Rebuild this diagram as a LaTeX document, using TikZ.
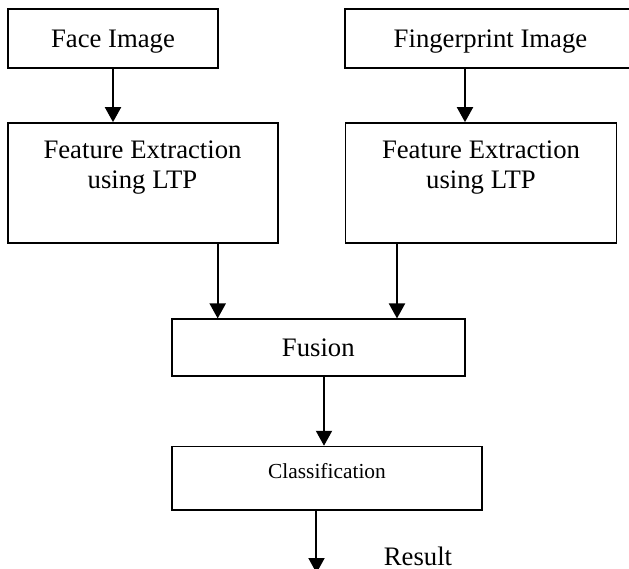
\documentclass[tikz,border=0pt]{standalone}
\usepackage{fontspec}
\setmainfont{Liberation Serif}
\usetikzlibrary{arrows.meta}
\begin{document}
\begin{tikzpicture}[x=0.5pt,y=-0.5pt,
  box/.style={draw, rectangle, line width=0.85pt, inner sep=0pt},
  lbl/.style={inner sep=0pt, font=\fontsize{13.35}{15}\selectfont},
  capbox/.style={box, lbl, text height=8.85pt, text depth=0pt},
  small/.style={inner sep=0pt, font=\fontsize{10.7}{13}\selectfont},
  arr/.style={line width=1pt, -{Triangle[length=7.5pt,width=8pt]}}]
\useasboundingbox (0,0) rectangle (629,569);
\clip (0,0) rectangle (629,569);

% input boxes
\node[capbox, minimum width=105pt, minimum height=29.5pt] (face) at (113,38.5) {Face Image};
\node[capbox, minimum width=145.5pt, minimum height=29.5pt] (finger) at (490.5,38.5) {Fingerprint Image};

% feature extraction boxes
\node[box, minimum width=135pt, minimum height=60pt] (feL) at (143,183) {};
\node[lbl, anchor=base] (feL1) at (142.5,158.3) {Feature Extraction};
\node[lbl, anchor=base] (feL2) at (142.5,188.3) {using LTP};
\node[box, minimum width=135.5pt, minimum height=60pt] (feR) at (481,183) {};
\node[lbl, anchor=base] (feR1) at (481,158.3) {Feature Extraction};
\node[lbl, anchor=base] (feR2) at (481,188.3) {using LTP};

% fusion and classification
\node[capbox, minimum width=146.5pt, minimum height=28.2pt] (fusion) at (318.3,347.5) {Fusion};
\node[box, minimum width=155pt, minimum height=31.7pt] (class) at (327.3,478.3) {};
\node[small, anchor=base] (classtxt) at (327,478.3) {Classification};
\node[lbl, anchor=base] (result) at (418,565) {Result};

% connector columns
\coordinate (c1) at (113,0);
\coordinate (c2) at (465,0);
\coordinate (c3) at (217.7,0);
\coordinate (c4) at (397,0);
\coordinate (c5) at (324,0);
\coordinate (c6) at (316.5,0);
\coordinate (out) at (316.5,573);

\draw[arr] (face.south -| c1) -- (feL.north -| c1);
\draw[arr] (finger.south -| c2) -- (feR.north -| c2);
\draw[arr] (feL.south -| c3) -- (fusion.north -| c3);
\draw[arr] (feR.south -| c4) -- (fusion.north -| c4);
\draw[arr] (fusion.south -| c5) -- (class.north -| c5);
\draw[arr] (class.south -| c6) -- (out);
\end{tikzpicture}
\end{document}
